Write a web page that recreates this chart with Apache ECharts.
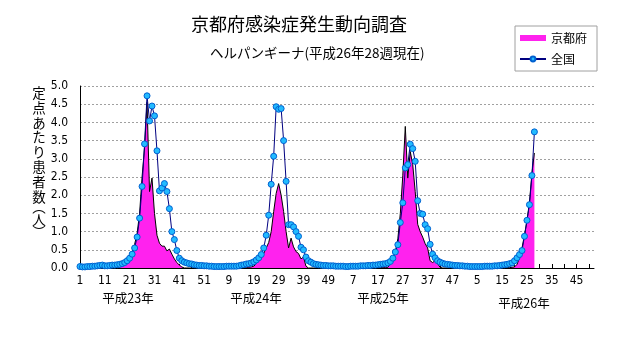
<!DOCTYPE html>
<html><head><meta charset="utf-8">
<script src="https://cdn.jsdelivr.net/npm/echarts@6/dist/echarts.min.js"></script>
<style>html,body{margin:0;padding:0;background:#fff}#c{width:631px;height:347px}</style>
</head><body><div id="c"></div>
<script>
// ---- data ----
const yearNames = ['平成23年', '平成24年', '平成25年', '平成26年'];
const weeksPerYear = 52;
const yTickLabels = ['0.0','0.5','1.0','1.5','2.0','2.5','3.0','3.5','4.0','4.5','5.0'];
const yAxisTitleChars = ['定','点','あ','た','り','患','者','数','︵','人','︶'];

const kyoto2011 = [0,0.01,0,0,0.01,0,0.01,0,0.01,0.02, 0,0.01,0,0.01,0.02,0.02,0.03,0.07,0.13,0.22,
  0.33,0.45,0.65,0.95,1.5,2.5,3.3,4.55,2.1,2.47, 1.5,0.9,0.68,0.6,0.6,0.47,0.52,0.38,0.25,0.15,
  0.08,0.03,0,0,0,0,0,0,0,0, 0,0];
const kyoto2012 = [0,0,0,0,0,0,0,0,0,0, 0,0,0,0.01,0.01,0.02,0.02,0.03,0.05,0.12,
  0.2,0.3,0.4,0.55,0.7,1.0,1.55,2.05,2.32,2.0, 1.55,1.0,0.55,0.82,0.58,0.45,0.4,0.25,0.3,0.05,
  0,0,0,0,0,0,0,0,0,0, 0,0];
const kyoto2013 = [0,0,0,0,0,0,0,0,0,0, 0,0,0,0,0,0,0.01,0.01,0.02,0.02,
  0.02,0.12,0.25,0.45,0.8,1.5,2.55,3.89,2.47,3.2, 2.84,2.1,1.2,1.0,0.85,0.67,0.55,0.2,0.15,0.2,
  0.12,0.02,0,0,0,0,0,0,0,0, 0,0];
const kyoto2014 = [0,0,0,0,0,0,0,0,0,0, 0,0,0,0,0,0.01,0.01,0.01,0.02,0.03,
  0.1,0.28,0.55,0.9,1.3,1.8,2.6,3.16];

const national2011 = [0.04,0.03,0.03,0.04,0.04,0.05,0.05,0.06,0.07,0.08, 0.06,0.06,0.07,0.08,0.08,0.09,0.10,0.12,0.15,0.20,
  0.27,0.38,0.55,0.85,1.37,2.24,3.41,4.73,4.04,4.45, 4.18,3.22,2.12,2.20,2.32,2.10,1.63,1.00,0.78,0.48,
  0.27,0.20,0.16,0.14,0.12,0.11,0.09,0.08,0.07,0.07, 0.06,0.06];
const national2012 = [0.05,0.05,0.04,0.04,0.04,0.04,0.04,0.05,0.05,0.05, 0.05,0.05,0.06,0.08,0.09,0.11,0.12,0.14,0.17,0.22,
  0.28,0.37,0.55,0.90,1.45,2.30,3.07,4.43,4.36,4.38, 3.50,2.38,1.19,1.19,1.13,1.00,0.87,0.57,0.50,0.30,
  0.20,0.16,0.12,0.10,0.09,0.08,0.07,0.07,0.06,0.06, 0.06,0.05];
const national2013 = [0.05,0.05,0.05,0.04,0.04,0.05,0.05,0.05,0.05,0.06, 0.06,0.06,0.07,0.07,0.08,0.08,0.09,0.10,0.11,0.12,
  0.14,0.18,0.27,0.44,0.64,1.25,1.79,2.75,2.84,3.40, 3.28,2.93,1.85,1.50,1.48,1.19,1.08,0.65,0.38,0.28,
  0.20,0.16,0.13,0.11,0.10,0.09,0.08,0.07,0.07,0.06, 0.06,0.05];
const national2014 = [0.05,0.04,0.04,0.04,0.04,0.04,0.04,0.05,0.05,0.05, 0.05,0.06,0.06,0.07,0.08,0.09,0.10,0.12,0.14,0.20,
  0.28,0.37,0.48,0.87,1.31,1.74,2.54,3.74];

// ---- build ----
const categories = [];
yearNames.forEach((y) => { for (let w = 1; w <= weeksPerYear; w++) categories.push(y + '|' + w); });
const kyoto = kyoto2011.concat(kyoto2012, kyoto2013, kyoto2014);
const national = national2011.concat(national2012, national2013, national2014);

const chart = echarts.init(document.getElementById('c'), null, {renderer: 'canvas'});
const jp = '"Noto Sans CJK JP", sans-serif';
const num = '"Liberation Sans Narrow", "DejaVu Sans Condensed", sans-serif';

const yTitleY = [93, 108, 123, 137, 152, 167, 182, 197, 207, 220, 232];
const yTitle = yAxisTitleChars.map((ch, i) => ({
  type: 'text', x: 39, y: yTitleY[i],
  style: {text: ch, fontFamily: 'Noto Sans CJK JP', fontSize: 13.5, fill: '#000',
          align: 'center', verticalAlign: 'middle'}
}));
const yearPos = [[128, 298], [256, 298], [383, 298], [524, 303]];
const yearLabels = yearNames.map((t, i) => ({
  type: 'text', x: yearPos[i][0], y: yearPos[i][1],
  style: {text: t, fontFamily: 'Noto Sans CJK JP', fontSize: 12.5, fill: '#000',
          align: 'center', verticalAlign: 'middle'}
}));

chart.setOption({
  animation: false,
  backgroundColor: '#fff',
  title: [
    {text: '京都府感染症発生動向調査', left: 186, top: 10,
     textStyle: {fontFamily: jp, fontSize: 18, fontWeight: 'normal', color: '#000'}},
    {text: 'ヘルパンギーナ(平成26年28週現在)', left: 205, top: 41,
     textStyle: {fontFamily: jp, fontSize: 13.5, fontWeight: 'normal', color: '#000'}}
  ],
  legend: {
    orient: 'vertical', left: 515, top: 26,
    itemWidth: 26, itemHeight: 6, itemGap: 9,
    borderColor: '#A0A0A0', borderWidth: 1, padding: [6, 10, 6, 4],
    textStyle: {fontFamily: jp, fontSize: 12, color: '#000'},
    data: [{name: '京都府', icon: 'rect'}, {name: '全国'}]
  },
  grid: {left: 80, right: 37, top: 86, bottom: 79},
  xAxis: {
    type: 'category', data: categories, boundaryGap: false,
    axisLine: {lineStyle: {color: '#000', width: 1}},
    axisTick: {inside: true, length: 4, interval: 4, lineStyle: {color: '#000'}},
    axisLabel: {interval: 9, margin: 7, fontFamily: num, fontSize: 12, color: '#000',
      formatter: v => v.split('|')[1]},
    splitLine: {show: false}
  },
  yAxis: {
    type: 'value', min: 0, max: 5, interval: 0.5,
    axisLine: {show: true, lineStyle: {color: '#000', width: 1}},
    axisTick: {show: false},
    axisLabel: {margin: 12, fontFamily: num, fontSize: 12, color: '#000',
      formatter: v => yTickLabels[Math.round(v / 0.5)]},
    splitLine: {lineStyle: {color: '#A0A0A0', type: [2, 2], width: 1}}
  },
  graphic: yTitle.concat(yearLabels),
  series: [
    {name: '京都府', type: 'line', data: kyoto, symbol: 'none', showSymbol: false,
     lineStyle: {color: '#000', width: 1},
     itemStyle: {color: '#FF22EE'},
     areaStyle: {color: '#FF22EE', opacity: 1}, z: 2},
    {name: '全国', type: 'line', data: national, symbol: 'circle', symbolSize: 6,
     showAllSymbol: true,
     lineStyle: {color: '#000080', width: 1},
     itemStyle: {color: '#22BBFF', borderColor: '#0060D0', borderWidth: 1}, z: 3}
  ]
});
</script>
</body></html>
